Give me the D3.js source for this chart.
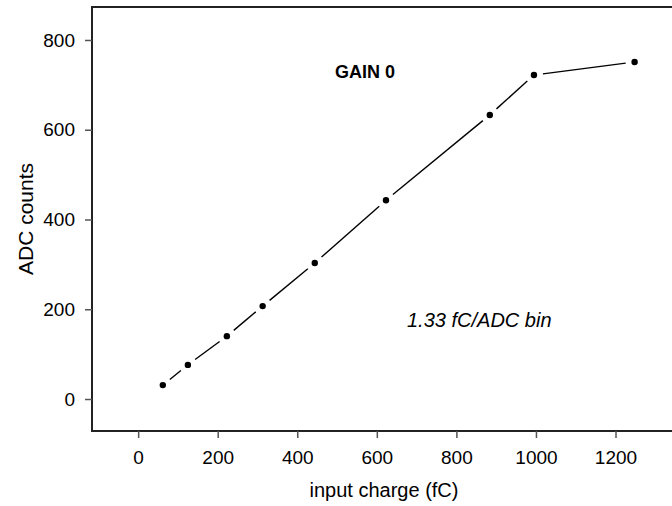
<!DOCTYPE html>
<html>
<head>
<meta charset="utf-8">
<script src="https://cdn.jsdelivr.net/npm/d3@7"></script>
<style>
	body { margin: 0; background: #fff; }
	svg { display: block; font-family: "Liberation Sans", Arial, sans-serif; }
</style>
</head>
<body>
<div id="chart"></div>
<script>
const charge = [62, 125, 223, 313, 444, 623, 884, 995, 1248];
const adc = [31, 76, 140, 207, 303, 443, 633, 722, 751];
const xTicks = [0, 200, 400, 600, 800, 1000, 1200];
const yTicks = [0, 200, 400, 600, 800];

const w = 672;
const h = 506;
const margin = { top: 7, bottom: 75, left: 92, right: 0 };

const svg = d3.select("#chart")
	.append("svg")
	.attr("width", w)
	.attr("height", h);

const x = d3.scaleLinear()
	.domain([-116, 1342])
	.range([margin.left, w - margin.right]);

const y = d3.scaleLinear()
	.domain([-71.3, 873.5])
	.range([h - margin.bottom, margin.top]);

// frame (right side runs off the picture)
svg.append("path")
	.attr("d", `M${w + 10},${y.range()[1]}H${margin.left}V${y.range()[0]}H${w + 10}`)
	.attr("fill", "none")
	.attr("stroke", "#222")
	.attr("stroke-width", 2);

function xAxis(g) {
	g.attr("transform", `translate(0, ${y.range()[0]})`)
	.call(d3.axisBottom(x).tickValues(xTicks).tickFormat(d3.format("d")).tickSize(7).tickPadding(12.5))
	.attr("font-size", "19px")
	.attr("font-family", null)
	g.select(".domain").remove();
	g.selectAll(".tick line").attr("stroke", "#555").attr("stroke-width", 1.5);
	g.selectAll(".tick text").attr("fill", "#000");
}

function yAxis(g) {
	g.attr("transform", `translate(${margin.left}, 0)`)
	.call(d3.axisLeft(y).tickValues(yTicks).tickFormat(d3.format("d")).tickSize(7).tickPadding(10))
	.attr("font-size", "19px")
	.attr("font-family", null)
	g.select(".domain").remove();
	g.selectAll(".tick line").attr("stroke", "#555").attr("stroke-width", 1.5);
	g.selectAll(".tick text").attr("fill", "#000");
}

svg.append("g").call(xAxis);
svg.append("g").call(yAxis);

// line segments with gaps round the points
const pts = charge.map((c, i) => [x(c), y(adc[i])]);
const gap = 9;
const segs = d3.pairs(pts).map(([a, b]) => {
	const dx = b[0] - a[0], dy = b[1] - a[1];
	const len = Math.hypot(dx, dy);
	const ux = dx / len, uy = dy / len;
	return [a[0] + ux * gap, a[1] + uy * gap, b[0] - ux * gap, b[1] - uy * gap];
});

svg.append("g")
	.attr("stroke", "#000")
	.attr("stroke-width", 1.4)
	.selectAll("line")
	.data(segs)
	.join("line")
		.attr("x1", d => d[0])
		.attr("y1", d => d[1])
		.attr("x2", d => d[2])
		.attr("y2", d => d[3]);

svg.append("g")
	.attr("fill", "#000")
	.selectAll("circle")
	.data(pts)
	.join("circle")
		.attr("cx", d => d[0])
		.attr("cy", d => d[1])
		.attr("r", 3.2);

// labels
svg.append("text")
	.attr("x", 384)
	.attr("y", 497)
	.attr("text-anchor", "middle")
	.attr("font-size", "20px")
	.text("input charge (fC)");

svg.append("text")
	.attr("transform", `translate(33, ${(y.range()[0] + y.range()[1]) / 2}) rotate(-90)`)
	.attr("text-anchor", "middle")
	.attr("font-size", "21px")
	.text("ADC counts");

svg.append("text")
	.attr("x", 335)
	.attr("y", 78)
	.attr("font-size", "18px")
	.attr("font-weight", "bold")
	.text("GAIN 0");

svg.append("text")
	.attr("x", 407)
	.attr("y", 327)
	.attr("font-size", "20px")
	.attr("font-style", "italic")
	.text("1.33 fC/ADC bin");
</script>
</body>
</html>
